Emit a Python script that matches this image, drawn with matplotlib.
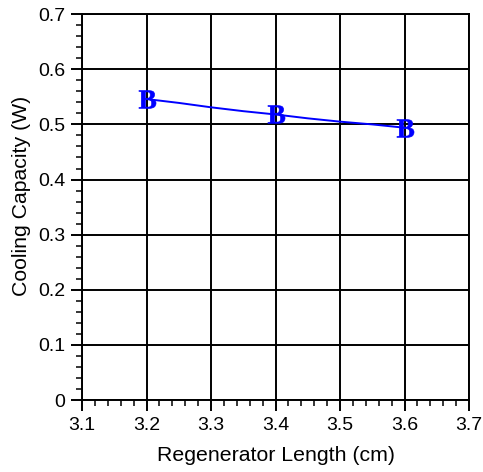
import matplotlib
matplotlib.use('Agg')
import matplotlib.pyplot as plt
from matplotlib.ticker import MultipleLocator, FormatStrFormatter

plt.rcParams['font.family'] = ['Liberation Sans', 'DejaVu Sans']
plt.rcParams['mathtext.fontset'] = 'custom'
plt.rcParams['mathtext.bf'] = 'Liberation Serif:bold'

# regenerator length (cm) vs cooling capacity (W)
length = [3.2, 3.25, 3.3, 3.35, 3.4, 3.45, 3.5, 3.55, 3.6]
capacity = [0.546, 0.539, 0.531, 0.524, 0.518, 0.511, 0.505, 0.500, 0.494]
marked = [0, 4, 8]

fig = plt.figure(figsize=(4.83, 4.72), dpi=100)
ax = fig.add_axes([0.170, 0.1525, 0.801, 0.8175])

ax.plot(length, capacity, color='#0000ff', lw=1.4,
        marker=r'$\mathbf{B}$', markersize=13, markevery=marked,
        markeredgewidth=0.4, zorder=3)

ax.set_xlim(3.1, 3.7)
ax.set_ylim(0, 0.7)
ax.xaxis.set_major_locator(MultipleLocator(0.1))
ax.xaxis.set_minor_locator(MultipleLocator(0.02))
ax.yaxis.set_major_locator(MultipleLocator(0.1))
ax.yaxis.set_minor_locator(MultipleLocator(0.02))
ax.xaxis.set_major_formatter(FormatStrFormatter('%.1f'))
ax.yaxis.set_major_formatter(plt.FuncFormatter(lambda v, p: '0' if abs(v) < 1e-9 else '%.1f' % v))

ax.grid(True, which='major', color='black', lw=1.4)
for s in ax.spines.values():
    s.set_linewidth(1.4)
ax.tick_params(which='major', direction='out', length=8, width=1.4, labelsize=14, pad=4)
ax.tick_params(which='minor', direction='out', length=4, width=1.1)

ax.set_xlabel('Regenerator Length (cm)', fontsize=15.3, labelpad=9)
ax.set_ylabel('Cooling Capacity (W)', fontsize=15.3)
ax.yaxis.set_label_coords(-0.132, 0.528)

fig.savefig('out.png', dpi=100)
